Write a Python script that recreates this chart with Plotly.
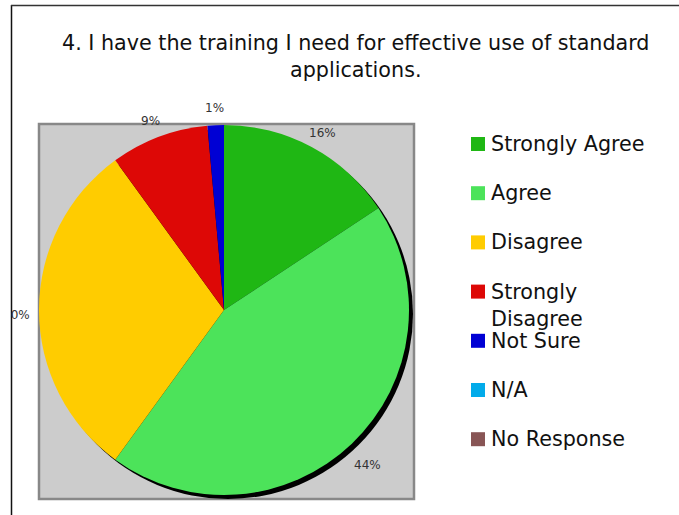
import math
import textwrap
import plotly.graph_objects as go

# survey responses, question 4
labels = ["Strongly Agree", "Agree", "Disagree", "Strongly Disagree",
          "Not Sure", "N/A", "No Response"]
counts = [11, 31, 21, 6, 1, 0, 0]
colors = ["#1fb714", "#4ce35a", "#ffcc00", "#dd0806",
          "#0000d4", "#02abea", "#885555"]
title = "4. I have the training I need for effective use of standard<br>applications."

W, H = 679, 515
FONT = "DejaVu Sans, Verdana, sans-serif"


def px(x):
  return x / W


def py(y):
  return 1 - y / H


def main():
  cx, cy, r = 224, 310, 185
  off = 4
  fig = go.Figure()
  # drop shadow behind the pie
  fig.add_trace(go.Pie(
    values=[sum(counts)], labels=["shadow"], marker=dict(colors=["#000000"]),
    textinfo="none", hoverinfo="skip", showlegend=False, sort=False,
    domain=dict(x=[px(cx - r + off), px(cx + r + off)],
                y=[py(cy + r + off), py(cy - r + off)])))
  fig.add_trace(go.Pie(
    values=counts, labels=labels, marker=dict(colors=colors, line=dict(width=0)),
    textinfo="none", sort=False, direction="clockwise", rotation=0,
    showlegend=False,
    domain=dict(x=[px(cx - r), px(cx + r)], y=[py(cy + r), py(cy - r)])))

  shapes = [
    dict(type="rect", xref="paper", yref="paper", layer="below",
         x0=px(39), x1=px(414), y0=py(499), y1=py(124),
         fillcolor="#cccccc", line=dict(color="#888888", width=2.5)),
  ]
  annotations = [
    dict(text=title, x=px(356), y=py(56), xref="paper", yref="paper",
         xanchor="center", yanchor="middle", showarrow=False,
         font=dict(family=FONT, size=20.7, color="#111111")),
  ]

  # percentage labels around the pie
  total = sum(counts)
  cum = 0
  for v in counts:
    if v > 0:
      mid = (cum + v / 2) / total * 2 * math.pi
      lx = cx + 208 * math.sin(mid)
      ly = cy - 207 * math.cos(mid) + 5
      annotations.append(dict(
        text="%d%%" % round(v / total * 100), x=px(lx), y=py(ly),
        xref="paper", yref="paper", xanchor="center", yanchor="middle",
        showarrow=False, font=dict(family=FONT, size=12, color="#333333")))
    cum += v
  # chart was cropped at the left frame
  annotations.append(dict(
    text=" ", x=0, y=py(318), xref="paper", yref="paper", xanchor="left",
    yanchor="middle", showarrow=False, width=9.5, height=24, borderpad=0,
    borderwidth=0, bgcolor="#ffffff"))

  # legend drawn by hand to get the wide spacing
  for i, (lab, col) in enumerate(zip(labels, colors)):
    c = 144 + i * 49.2
    shapes.append(dict(type="rect", xref="paper", yref="paper",
                       x0=px(471), x1=px(485), y0=py(c + 7), y1=py(c - 7),
                       fillcolor=col, line=dict(width=0)))
    annotations.append(dict(
      text="<br>".join(textwrap.wrap(lab, 15)), x=px(489), y=py(c - 14),
      xref="paper", yref="paper", xanchor="left", yanchor="top", align="left",
      showarrow=False, font=dict(family=FONT, size=20.7, color="#111111")))

  # frame of the original chart
  shapes += [
    dict(type="line", xref="paper", yref="paper",
         x0=px(11.5), x1=px(11.5), y0=py(515), y1=py(5),
         line=dict(color="#111111", width=1.5)),
    dict(type="line", xref="paper", yref="paper",
         x0=px(11), x1=px(679), y0=py(5.5), y1=py(5.5),
         line=dict(color="#333333", width=1.5)),
  ]

  fig.update_layout(
    width=W, height=H, margin=dict(l=0, r=0, t=0, b=0),
    paper_bgcolor="#ffffff", shapes=shapes, annotations=annotations)
  fig.write_html("out.html", config={"displayModeBar": False},
                 post_script="document.body.style.margin='0';")


if __name__ == '__main__':
  main()
